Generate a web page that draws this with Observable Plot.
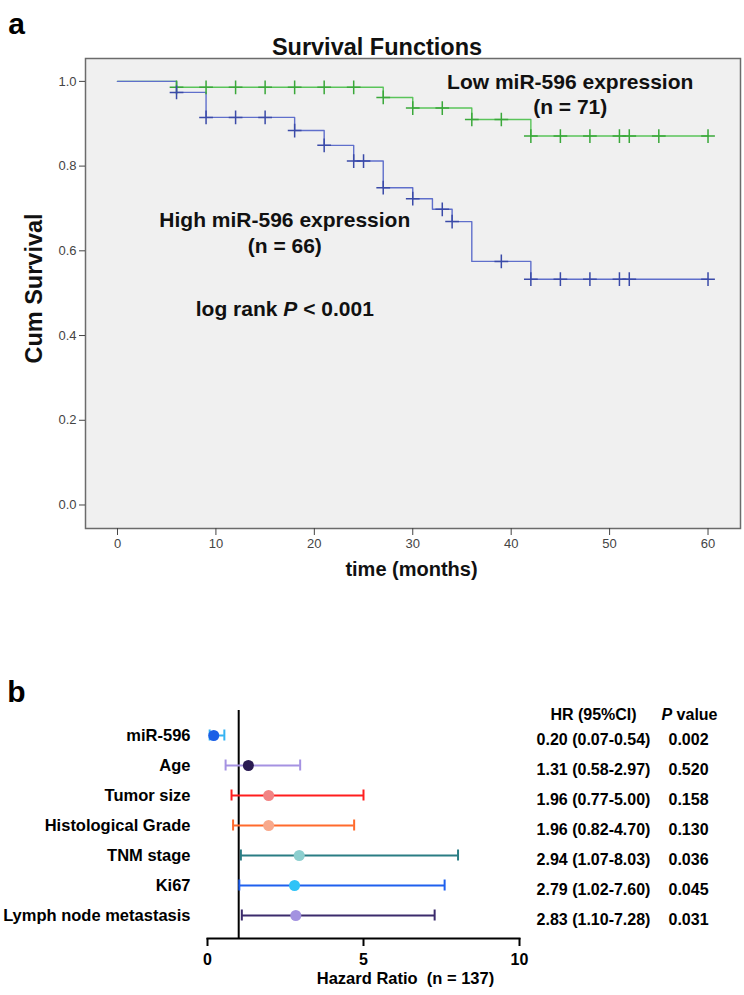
<!DOCTYPE html>
<html>
<head>
<meta charset="utf-8">
<script src="https://cdn.jsdelivr.net/npm/d3@7"></script>
<script src="https://cdn.jsdelivr.net/npm/@observablehq/plot@0.6"></script>
<style>
  body { margin: 0; background: #fff; }
  #fig { position: relative; width: 744px; height: 995px; }
  #fig svg { position: absolute; left: 0; overflow: visible; }
</style>
</head>
<body>
<div id="fig"></div>
<script>
// ---- (a) Kaplan–Meier survival by miR-596 expression ----
const lowTimes = [0, 6, 27, 30, 36, 42, 60];
const lowSurv = [1, 0.986, 0.962, 0.937, 0.910, 0.871, 0.871];
const lowCensored = [6, 9, 12, 15, 18, 21, 24, 27, 30, 33, 36, 39, 42, 45, 48, 51, 52, 55, 60];

const highTimes = [0, 6, 9, 18, 21, 24, 27, 30, 32, 34, 36, 42, 60];
const highSurv = [1, 0.974, 0.915, 0.884, 0.849, 0.812, 0.749, 0.723, 0.698, 0.669, 0.575, 0.533, 0.533];
const highCensored = [6, 9, 12, 15, 18, 21, 24, 25, 27, 30, 33, 34, 39, 42, 45, 48, 51, 52, 60];

const timeTicks = [0, 10, 20, 30, 40, 50, 60];
const survTicks = [0, 0.2, 0.4, 0.6, 0.8, 1.0];

// curve annotations, placed in data space (time, survival)
const annotations = [
  {text: "Low miR-596 expression", time: 46, surv: 0.997},
  {text: "(n = 71)", time: 46, surv: 0.940},
  {text: "High miR-596 expression", time: 17, surv: 0.671},
  {text: "(n = 66)", time: 17, surv: 0.610},
  {text: "log rank P < 0.001", time: 17, surv: 0.461}
];

// ---- (b) Multivariate Cox regression ----
const factors = ["miR-596", "Age", "Tumor size", "Histological Grade", "TNM stage", "Ki67", "Lymph node metastasis"];
const hazardRatios = [0.20, 1.31, 1.96, 1.96, 2.94, 2.79, 2.83];
const ciLower = [0.07, 0.58, 0.77, 0.82, 1.07, 1.02, 1.10];
const ciUpper = [0.54, 2.97, 5.00, 4.70, 8.03, 7.60, 7.28];
const pValues = ["0.002", "0.520", "0.158", "0.130", "0.036", "0.045", "0.031"];
const hrTicks = [0, 5, 10];
const lineColors = ["#35b3f2", "#a592e2", "#ff1e1e", "#ff6a2c", "#2a7d84", "#1f60ee", "#3b2b6c"];
const dotColors = ["#1b5fe6", "#2a1a52", "#f28484", "#f8a98c", "#8ccfcf", "#2fc3f7", "#a392e0"];

const font = "'Liberation Sans', Arial, Helvetica, sans-serif";
const green = "#5ac45a", greenMark = "#3aa83a";
const blue = "#5f6fcb", blueMark = "#3a4aa8";

function survivalAt(times, surv, t) {
  let s = surv[0];
  for (let i = 0; i < times.length; ++i) if (times[i] <= t) s = surv[i];
  return s;
}
const curve = (times, surv) => times.map((t, i) => ({time: t, surv: surv[i]}));
const censorPoints = (cens, times, surv) => cens.map(t => ({time: t, surv: survivalAt(times, surv, t)}));

const lowCurve = curve(lowTimes, lowSurv);
const highCurve = curve(highTimes, highSurv);
const lowMarks = censorPoints(lowCensored, lowTimes, lowSurv);
const highMarks = censorPoints(highCensored, highTimes, highSurv);

const plotA = Plot.plot({
  width: 744,
  height: 600,
  marginLeft: 85,
  marginRight: 4,
  marginTop: 58,
  marginBottom: 72,
  style: {fontFamily: font, background: "transparent", overflow: "visible"},
  x: {domain: [-3.25, 63.3]},
  y: {domain: [-0.0555, 1.054]},
  marks: [
    Plot.frame({fill: "#f0f0f0", stroke: "#6b6b6b", strokeWidth: 1.5}),
    Plot.axisY({ticks: survTicks, tickFormat: d3.format(".1f"), tickSize: 6, tickPadding: 3,
      fontSize: 13, color: "#444", label: null}),
    Plot.axisX({ticks: timeTicks, tickSize: 7, tickPadding: 3, fontSize: 13, color: "#444", label: null}),
    Plot.line(lowCurve, {x: "time", y: "surv", curve: "step-after", stroke: green, strokeWidth: 1.4}),
    Plot.line(highCurve, {x: "time", y: "surv", curve: "step-after", stroke: blue, strokeWidth: 1.4}),
    Plot.dot(lowMarks, {x: "time", y: "surv", symbol: "plus", r: 4.5, stroke: greenMark, strokeWidth: 1.5}),
    Plot.dot(highMarks, {x: "time", y: "surv", symbol: "plus", r: 4.5, stroke: blueMark, strokeWidth: 1.5}),
    Plot.text(annotations, {x: "time", y: "surv", text: "text", fontSize: 21, fontWeight: "bold", fill: "#111"}),
    // panel letter, title and axis labels
    Plot.text(["a"], {frameAnchor: "top-left", textAnchor: "middle", dx: -69, dy: -46, fontSize: 30, fontWeight: "bold", fill: "#000"}),
    Plot.text(["Survival Functions"], {frameAnchor: "top", textAnchor: "middle", dx: -36, dy: -20, fontSize: 23.5, fontWeight: "bold", fill: "#111"}),
    Plot.text(["Cum Survival"], {frameAnchor: "left", textAnchor: "middle", rotate: -90, dx: -51, dy: -5, fontSize: 23.5, fontWeight: "bold", fill: "#111"}),
    Plot.text(["time (months)"], {frameAnchor: "bottom", textAnchor: "middle", dx: -1.5, dy: 47.6, fontSize: 20, fontWeight: "bold", fill: "#111"})
  ]
});

const rows = factors.map((f, i) => ({
  factor: f, hr: hazardRatios[i], lo: ciLower[i], hi: ciUpper[i], p: pValues[i],
  line: lineColors[i], dot: dotColors[i]
}));
const fmt = d3.format(".2f");
const tableFont = {fontSize: 16, fontWeight: "bold", fill: "#000", textAnchor: "middle", frameAnchor: "right"};

const plotB = Plot.plot({
  width: 744,
  height: 335,
  marginLeft: 207,
  marginRight: 225,
  marginTop: 50,
  marginBottom: 57,
  style: {fontFamily: font, background: "transparent", overflow: "visible"},
  x: {domain: [0, 10]},
  y: {type: "band", domain: factors, range: [57.6, 273.4], padding: 0, axis: null},
  marks: [
    Plot.ruleX([1], {stroke: "#000", strokeWidth: 2}),
    Plot.frame({anchor: "bottom", stroke: "#000", strokeWidth: 2}),
    Plot.axisX({ticks: hrTicks, tickSize: 8, tickPadding: 7, fontSize: 16, fontWeight: "bold",
      color: "#000", strokeWidth: 2, label: null}),
    Plot.ruleY(rows, {y: "factor", x1: "lo", x2: "hi", stroke: "line", strokeWidth: 2}),
    Plot.tickX(rows, {x: "lo", y: "factor", stroke: "line", strokeWidth: 2, insetTop: 9.5, insetBottom: 9.5}),
    Plot.tickX(rows, {x: "hi", y: "factor", stroke: "line", strokeWidth: 2, insetTop: 9.5, insetBottom: 9.5}),
    Plot.dot(rows, {x: "hr", y: "factor", fill: "dot", r: 5.5}),
    Plot.text(rows, {y: "factor", text: "factor", frameAnchor: "left", textAnchor: "end", dx: -17,
      fontSize: 16.5, fontWeight: "bold", fill: "#000"}),
    Plot.text(rows, {...tableFont, y: "factor", text: d => `${fmt(d.hr)} (${fmt(d.lo)}-${fmt(d.hi)})`, dx: 74, dy: 4}),
    Plot.text(rows, {...tableFont, y: "factor", text: "p", dx: 169, dy: 4}),
    Plot.text([factors[0]], {...tableFont, y: d => d, text: () => "HR (95%CI)", dx: 74, dy: -21}),
    Plot.text([factors[0]], {...tableFont, y: d => d, text: () => "P value", dx: 170, dy: -21}),
    Plot.text(["Hazard Ratio\u00a0 (n = 137)"], {frameAnchor: "bottom", textAnchor: "middle", dx: 42, dy: 45,
      fontSize: 16.5, fontWeight: "bold", fill: "#000"}),
    Plot.text(["b"], {frameAnchor: "top-left", textAnchor: "middle", dx: -191, dy: -30, fontSize: 30, fontWeight: "bold", fill: "#000"})
  ]
});

// italic "P" inside mixed-style labels
function italicizeP(svg, label) {
  d3.select(svg).selectAll("text").each(function() {
    if (this.textContent !== label) return;
    const i = label.indexOf("P");
    const sel = d3.select(this).text("");
    sel.append("tspan").text(label.slice(0, i));
    sel.append("tspan").attr("font-style", "italic").text("P");
    sel.append("tspan").text(label.slice(i + 1));
  });
}
italicizeP(plotA, "log rank P < 0.001");
italicizeP(plotB, "P value");

plotA.style.top = "0px";
plotB.style.top = "660px";
const fig = document.getElementById("fig");
fig.appendChild(plotA);
fig.appendChild(plotB);
</script>
</body>
</html>
